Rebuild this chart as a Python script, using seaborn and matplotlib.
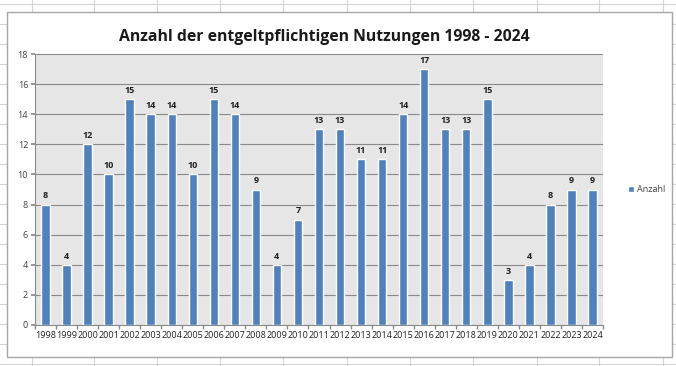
import matplotlib
matplotlib.use("Agg")
import matplotlib.pyplot as plt
import seaborn as sns
import pandas as pd
import numpy as np
from matplotlib.patches import Rectangle
from matplotlib.lines import Line2D

years = [str(y) for y in range(1998, 2025)]
counts = [8, 4, 12, 10, 15, 14, 14, 10, 15, 14, 9, 4, 7, 13, 13, 11, 11, 14, 17, 13, 13, 15, 3, 4, 8, 9, 9]
yticks = [0, 2, 4, 6, 8, 10, 12, 14, 16, 18]
title = "Anzahl der entgeltpflichtigen Nutzungen 1998 - 2024"
series_name = "Anzahl"

df = pd.DataFrame({"Jahr": years, series_name: counts})

sns.set_theme(style="white")
plt.rcParams['font.family'] = ['Open Sans', 'DejaVu Sans']

W, H = 676, 366
fig = plt.figure(figsize=(W / 100, H / 100), dpi=100)
fig.patch.set_facecolor("white")

def fx(px):
    return px / W

def fy(py):
    return 1 - py / H

# spreadsheet grid lines outside the chart
grid_col = "#d4d4d4"
for x in [32, 94, 157, 220, 283, 347, 410, 473, 537, 599, 663]:
    fig.add_artist(Line2D([fx(x), fx(x)], [0, 1], color=grid_col, lw=0.8, zorder=0))
for y in range(0, H, 20):
    fig.add_artist(Line2D([0, 1], [fy(y + 4), fy(y + 4)], color=grid_col, lw=0.8, zorder=0))

# chart frame
fig.add_artist(Rectangle((fx(7), fy(357)), fx(672) - fx(7), fy(12) - fy(357),
                         transform=fig.transFigure, facecolor="white",
                         edgecolor="#a6a6a6", lw=1.0, zorder=1))

ax = fig.add_axes([fx(35), fy(325), fx(603) - fx(35), fy(54) - fy(325)])
ax.set_zorder(2)
ax.set_facecolor("#e6e6e6")

bar_color = "#4f81bd"
sns.barplot(data=df, x="Jahr", y=series_name, color=bar_color, width=0.4,
            saturation=1, ax=ax, zorder=3, label=series_name)

ax.set_xlim(-0.5, len(years) - 0.5)
ax.set_ylim(0, 18)
ax.set_yticks(yticks)
ax.set_yticklabels([str(t) for t in yticks], fontsize=6.5, color="#404040")
ax.set_xticks(range(len(years)))
ax.set_xticklabels(years, fontsize=6.5, color="#202020")
ax.set_xlabel("")
ax.set_ylabel("")
ax.yaxis.grid(True, color="#8a8a8a", lw=0.8, zorder=1)
ax.set_axisbelow(True)

for s in ["top", "right"]:
    ax.spines[s].set_visible(False)
ax.spines["left"].set_color("#8a8a8a")
ax.spines["bottom"].set_color("#8a8a8a")
ax.spines["left"].set_linewidth(0.8)
ax.spines["bottom"].set_linewidth(0.8)

ax.tick_params(axis="x", which="major", length=0, pad=4)
ax.tick_params(axis="y", which="major", length=3, color="#8a8a8a", pad=2, left=True)
ax.set_xticks(np.arange(-0.5, len(years), 1.0), minor=True)
ax.tick_params(axis="x", which="minor", length=3, color="#8a8a8a", bottom=True)

for c in ax.containers:
    ax.bar_label(c, labels=[str(v) for v in counts], padding=3, fontsize=6.5,
                 fontweight="bold", color="#202020")

fig.text(fx(324), fy(37), title, ha="center", va="center", fontsize=11.3,
         fontweight="bold", color="#1a1a1a")

ax.legend(loc="center left", bbox_to_anchor=(1.03, 0.5), frameon=False,
          fontsize=6.5, handlelength=0.7, handleheight=0.7, handletextpad=0.3,
          labelcolor="#404040")

fig.savefig("out.png", dpi=100)
